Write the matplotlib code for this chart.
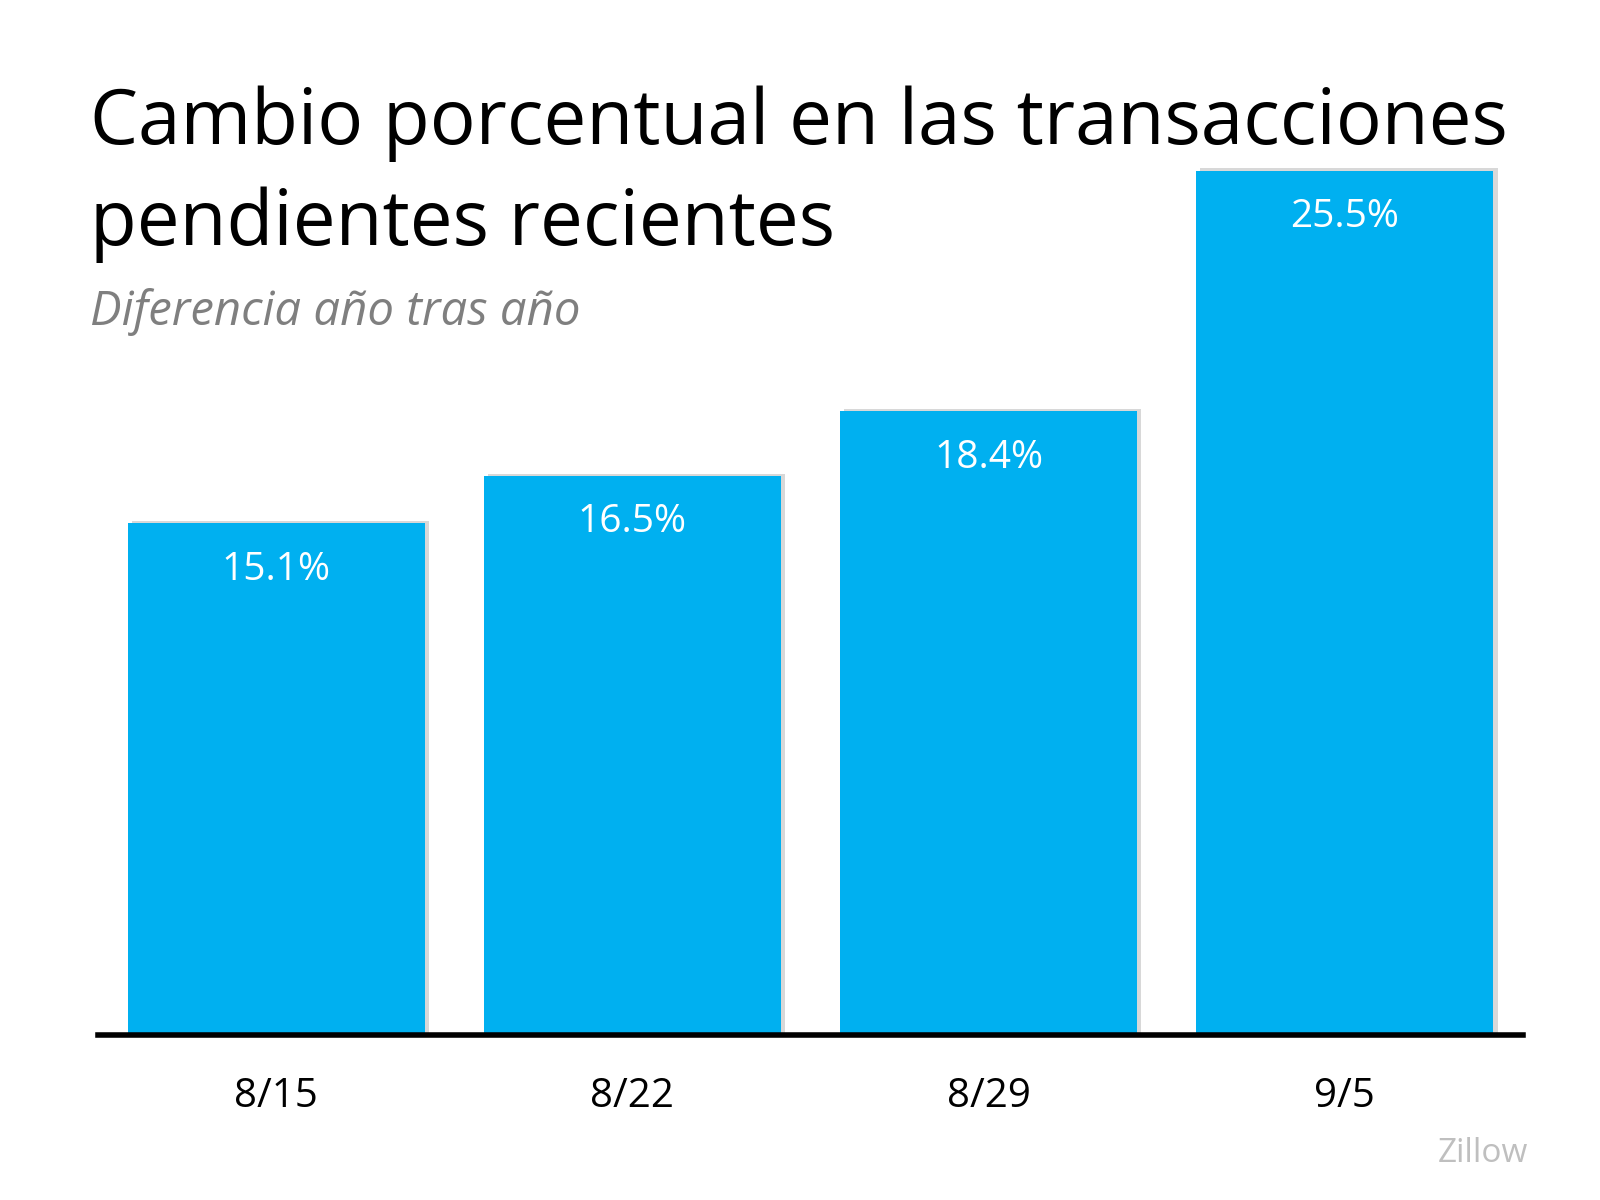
import matplotlib.pyplot as plt
import matplotlib.patheffects as pe

# data
dates = ['8/15', '8/22', '8/29', '9/5']
values = [15.1, 16.5, 18.4, 25.5]
labels = ['15.1%', '16.5%', '18.4%', '25.5%']

plt.rcParams['font.family'] = ['Open Sans', 'DejaVu Sans']

fig = plt.figure(figsize=(16, 12), dpi=100)
ax = fig.add_axes([98 / 1600, 165 / 1200, 1425 / 1600, 0.8475])

x = range(len(dates))
bars = ax.bar(x, values, width=0.834, color='#00B0F0', zorder=2)
for b in bars:
    b.set_path_effects([pe.SimplePatchShadow(offset=(3, 1.5), shadow_rgbFace='#808080', alpha=0.3),
                        pe.Normal()])

# value labels inside bars, near the top
for i, (v, lab) in enumerate(zip(values, labels)):
    ax.annotate(lab, (i, v), xytext=(0, -20), textcoords='offset points',
                ha='center', va='top', color='white', fontsize=28)

ax.set_xlim(-0.5, 3.5)
ax.set_ylim(0, 30)
ax.set_xticks(list(x))
ax.set_xticklabels(dates, fontsize=29)
ax.tick_params(axis='x', length=0, pad=30)
ax.set_yticks([])
for s in ['top', 'right', 'left']:
    ax.spines[s].set_visible(False)
ax.spines['bottom'].set_linewidth(4)
ax.spines['bottom'].set_zorder(3)

fig.text(90 / 1600, 1 - 144 / 1200, 'Cambio porcentual en las transacciones',
         fontsize=55, va='baseline', ha='left', color='black')
fig.text(90 / 1600, 1 - 245 / 1200, 'pendientes recientes',
         fontsize=55, va='baseline', ha='left', color='black')
fig.text(90 / 1600, 1 - 325 / 1200, 'Diferencia año tras año',
         fontsize=34, style='italic', va='baseline', ha='left', color='#7F7F7F')
fig.text(1528 / 1600, 1 - 1162 / 1200, 'Zillow', fontsize=24, ha='right',
         va='baseline', color='#BFBFBF')

fig.savefig('out.png', dpi=100, facecolor='white')
